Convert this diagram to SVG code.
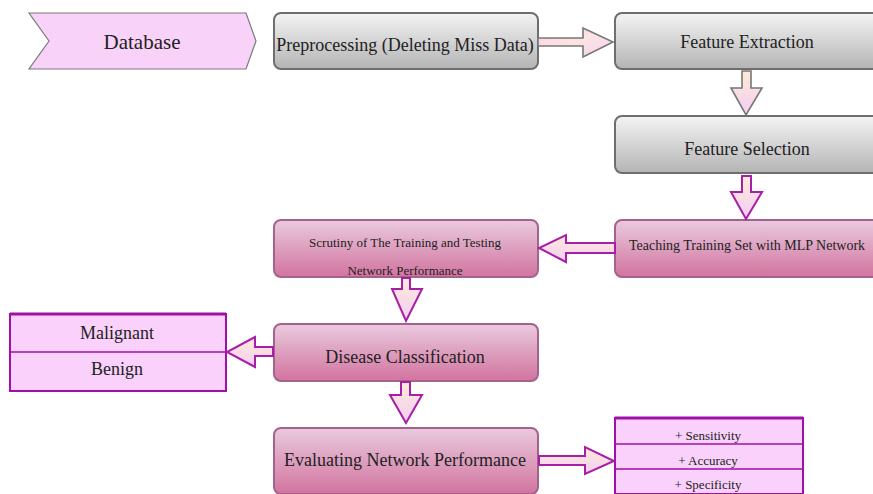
<svg xmlns="http://www.w3.org/2000/svg" width="873" height="494" viewBox="0 0 873 494">
<defs>
<linearGradient id="gGray" x1="0" y1="0" x2="0" y2="1">
<stop offset="0" stop-color="#f4f4f4"/><stop offset="1" stop-color="#b4b4b4"/>
</linearGradient>
<linearGradient id="gPink" x1="0" y1="0" x2="0" y2="1">
<stop offset="0" stop-color="#e9cade"/><stop offset="1" stop-color="#d2749f"/>
</linearGradient>
<linearGradient id="gArrow" x1="0" y1="0" x2="0" y2="1">
<stop offset="0" stop-color="#ffebd6"/><stop offset="1" stop-color="#f2cdf4"/>
</linearGradient>
<linearGradient id="gArrowH" x1="0" y1="0" x2="1" y2="1">
<stop offset="0" stop-color="#f8d2e8"/><stop offset="0.5" stop-color="#fde4e2"/><stop offset="1" stop-color="#f2d0f2"/>
</linearGradient>
</defs>
<style>
text{font-family:'Liberation Serif','DejaVu Serif','Noto Serif',serif;fill:#222;text-anchor:middle;dominant-baseline:central}
.gray{fill:url(#gGray);stroke:#6e6e6e;stroke-width:2}
.pink{fill:url(#gPink);stroke:#a5628c;stroke-width:2}
.list{fill:#f9d1fa;stroke:#a010a8;stroke-width:2}
.div{stroke:#a010a8;stroke-width:1.3}
.ga{fill:url(#gArrowH);stroke:#777;stroke-width:1.6;stroke-linejoin:miter}
.gv{fill:url(#gArrow);stroke:#777;stroke-width:1.6}
.pa{fill:url(#gArrow);stroke:#a81ea8;stroke-width:2}
.f18{font-size:18px}
.f14{font-size:14px}
.f13{font-size:13px}
</style>

<g id="database">
<polygon points="29,13 246,13 256,41 246,69 29,69 49,41" fill="#f8d2f8" stroke="#7a7a7a" stroke-width="1.2"/>
<text x="142" y="42" font-family="Liberation Serif, serif" style="font-size:21px">Database</text>
</g>

<g id="preprocessing">
<rect x="274" y="13" width="264" height="56" rx="7" class="gray"/>
<text x="405" y="45" class="f18">Preprocessing (Deleting Miss Data)</text>
</g>

<g id="feature-extraction">
<rect x="615" y="13" width="266" height="56" rx="7" class="gray"/>
<text x="747" y="42" class="f18">Feature Extraction</text>
</g>

<g id="feature-selection">
<rect x="615" y="116" width="266" height="57" rx="7" class="gray"/>
<text x="747" y="149" class="f18">Feature Selection</text>
</g>

<g id="teaching">
<rect x="615" y="220" width="266" height="57" rx="7" class="pink"/>
<text x="747" y="245" class="f14">Teaching Training Set with MLP Network</text>
</g>

<g id="scrutiny">
<rect x="274" y="220" width="264" height="57" rx="7" class="pink"/>
<text x="405" y="242" class="f13">Scrutiny of The Training and Testing</text>
<text x="405" y="270" class="f13">Network Performance</text>
</g>

<g id="disease-classification">
<rect x="274" y="324" width="264" height="57" rx="7" class="pink"/>
<text x="405" y="357" class="f18">Disease Classification</text>
</g>

<g id="evaluating">
<rect x="274" y="428" width="264" height="66" rx="7" class="pink"/>
<text x="405" y="460" class="f18">Evaluating Network Performance</text>
</g>

<g id="classes">
<rect x="10" y="314" width="216" height="77" class="list"/>
<line x1="10" y1="314" x2="226" y2="314" stroke="#a010a8" stroke-width="3"/>
<line x1="10" y1="352" x2="226" y2="352" class="div"/>
<text x="117" y="333" class="f18">Malignant</text>
<text x="117" y="369" class="f18">Benign</text>
</g>

<g id="metrics">
<rect x="615" y="418" width="188" height="76" class="list"/>
<line x1="615" y1="418" x2="803" y2="418" stroke="#a010a8" stroke-width="3"/>
<line x1="615" y1="444" x2="803" y2="444" class="div"/>
<line x1="615" y1="469" x2="803" y2="469" class="div"/>
<text x="708" y="435" class="f13">+ Sensitivity</text>
<text x="708" y="460" class="f13">+ Accuracy</text>
<text x="708" y="484" class="f13">+ Specificity</text>
</g>

<g id="connectors">
<polygon class="ga" points="538,38 583,38 583,28 613,42 583,57 583,46 538,46"/>
<polygon class="gv" points="742,71 751,71 751,88 762,88 746,115 731,88 742,88"/>
<polygon class="pa" points="742,176 751,176 751,192 762,192 746,219 731,192 742,192"/>
<polygon class="pa" points="615,243 566,243 566,235 539,248 566,262 566,253 615,253"/>
<polygon class="pa" points="402,278 410,278 410,289 422,289 406,321 392,289 402,289"/>
<polygon class="pa" points="273,347 255,347 255,337 227,352 255,367 255,356 273,356"/>
<polygon class="pa" points="401,382 410,382 410,395 422,395 406,423 390,395 401,395"/>
<polygon class="pa" points="539,456 585,456 585,447 614,461 585,474 585,465 539,465"/>
</g>
</svg>
